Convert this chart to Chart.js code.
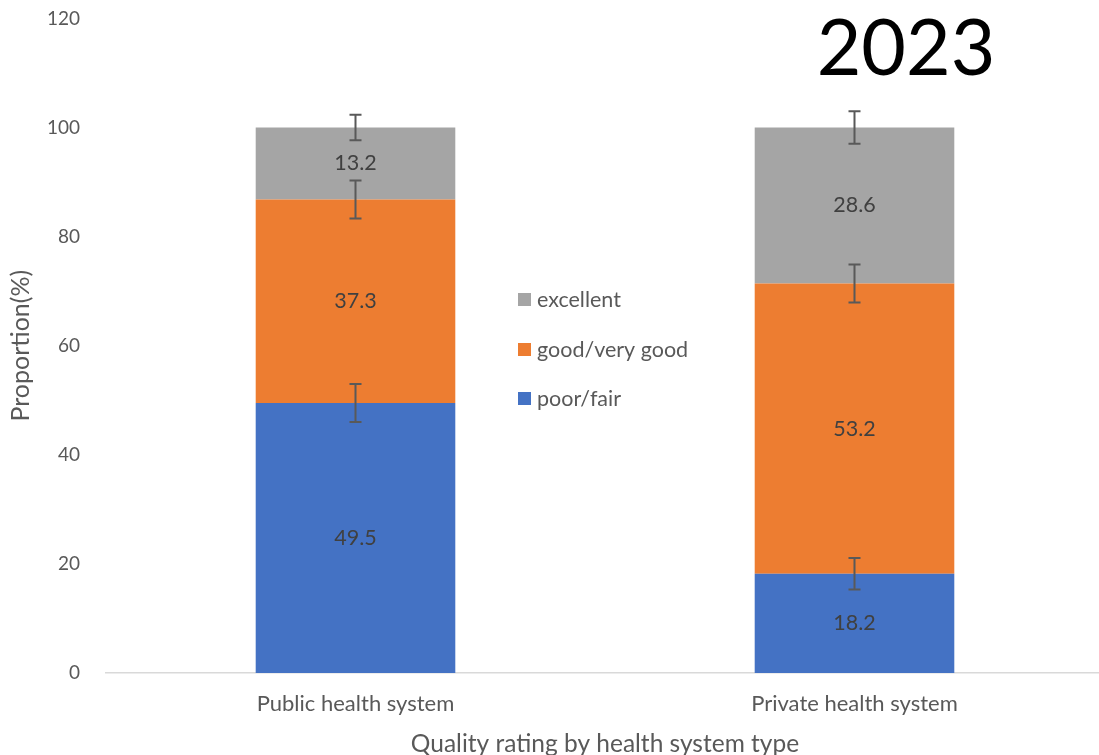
<!DOCTYPE html>
<html>
<head>
<meta charset="utf-8">
<script src="https://cdn.jsdelivr.net/npm/chart.js@4"></script>
<style>
  html, body { margin: 0; padding: 0; background: #fff; overflow: hidden; }
  #wrap { width: 1104px; height: 766px; position: absolute; left: 0; top: -11px; }
</style>
</head>
<body>
<div id="wrap"><canvas id="myChart"></canvas></div>
<script>
// data
const categories = ['Public health system', 'Private health system'];
const poorFair = [49.5, 18.2];
const goodVeryGood = [37.3, 53.2];
const excellent = [13.2, 28.6];
// error bar half widths (same units as values)
const errPoorFair = [3.5, 2.9];
const errGoodVeryGood = [3.5, 3.5];
const errExcellent = [2.35, 3.0];
const yTicks = [0, 20, 40, 60, 80, 100, 120];
const chartTitle = '2023';

const FONT = 'Lato, "Open Sans", sans-serif';
const TEXT_GREY = '#595959';
const SHIFT = 11; // the canvas starts 11px above the page

// valeurs au centre de chaque segment
const valueLabels = {
    id: 'valueLabels',
    afterDatasetsDraw(chart) {
        const ctx = chart.ctx;
        ctx.save();
        ctx.font = '21.5px ' + FONT;
        ctx.fillStyle = '#404040';
        ctx.textAlign = 'center';
        ctx.textBaseline = 'middle';
        chart.data.datasets.forEach((ds, i) => {
            chart.getDatasetMeta(i).data.forEach((bar, j) => {
                ctx.fillText(ds.data[j].toFixed(1), bar.x, (bar.y + bar.base) / 2);
            });
        });
        ctx.restore();
    }
};

// barres d'erreur au sommet de chaque segment
const errorBars = {
    id: 'errorBars',
    afterDatasetsDraw(chart) {
        const ctx = chart.ctx;
        const y = chart.scales.y;
        ctx.save();
        ctx.strokeStyle = TEXT_GREY;
        ctx.lineWidth = 2;
        chart.data.datasets.forEach((ds, i) => {
            chart.getDatasetMeta(i).data.forEach((bar, j) => {
                const top = y.getValueForPixel(bar.y);
                const e = ds.errors[j];
                const y1 = y.getPixelForValue(top + e);
                const y2 = y.getPixelForValue(top - e);
                const cap = 6;
                ctx.beginPath();
                ctx.moveTo(bar.x, y1); ctx.lineTo(bar.x, y2);
                ctx.moveTo(bar.x - cap, y1); ctx.lineTo(bar.x + cap, y1);
                ctx.moveTo(bar.x - cap, y2); ctx.lineTo(bar.x + cap, y2);
                ctx.stroke();
            });
        });
        ctx.restore();
    }
};

// légende dans la zone du graphique + titre "2023"
const insideLegend = {
    id: 'insideLegend',
    afterDraw(chart) {
        const ctx = chart.ctx;
        ctx.save();
        const items = chart.data.datasets.slice().reverse();
        const lx = 518;
        const rows = [299, 349, 398];
        ctx.font = '21.5px ' + FONT;
        ctx.textBaseline = 'middle';
        ctx.textAlign = 'left';
        items.forEach((ds, k) => {
            ctx.fillStyle = ds.backgroundColor;
            ctx.fillRect(lx, rows[k] + SHIFT - 6, 13, 13);
            ctx.fillStyle = TEXT_GREY;
            ctx.fillText(ds.label, lx + 19, rows[k] + SHIFT + 1);
        });

        ctx.font = '77px ' + FONT;
        ctx.fillStyle = '#000';
        ctx.textAlign = 'center';
        ctx.textBaseline = 'alphabetic';
        ctx.fillText(chartTitle, 906, 75 + SHIFT);
        ctx.restore();
    }
};

const ctx = document.getElementById('myChart').getContext('2d');
const myChart = new Chart(ctx, {
    type: 'bar',
    data: {
        labels: categories,
        datasets: [
            {
                label: 'poor/fair',
                data: poorFair,
                errors: errPoorFair,
                backgroundColor: '#4472C4'
            },
            {
                label: 'good/very good',
                data: goodVeryGood,
                errors: errGoodVeryGood,
                backgroundColor: '#ED7D31'
            },
            {
                label: 'excellent',
                data: excellent,
                errors: errExcellent,
                backgroundColor: '#A5A5A5'
            }
        ]
    },
    options: {
        responsive: true,
        maintainAspectRatio: false,
        animation: false,
        barPercentage: 0.4,
        categoryPercentage: 1.0,
        layout: { padding: { top: 0, right: 0, left: 0, bottom: 0 } },
        plugins: {
            legend: { display: false },
            tooltip: { enabled: false }
        },
        scales: {
            x: {
                stacked: true,
                grid: { display: false },
                border: { display: true, color: '#D9D9D9', width: 1.5 },
                ticks: { color: TEXT_GREY, font: { family: FONT, size: 22 }, padding: 10 },
                title: {
                    display: true,
                    text: 'Quality rating by health system type',
                    color: TEXT_GREY,
                    font: { family: FONT, size: 24.5 },
                    padding: { top: 4, bottom: -4 }
                },
                afterFit(scale) { scale.height = 82; }
            },
            y: {
                stacked: true,
                min: 0,
                max: 120,
                afterBuildTicks(scale) {
                    scale.ticks = yTicks.map(v => ({ value: v }));
                },
                grid: { display: false },
                border: { display: false },
                ticks: { color: TEXT_GREY, font: { family: FONT, size: 19 }, padding: 18 },
                title: {
                    display: true,
                    text: 'Proportion(%)',
                    color: TEXT_GREY,
                    font: { family: FONT, size: 25 },
                    padding: { top: 6, bottom: 0 }
                },
                afterFit(scale) { scale.width = 106; }
            }
        }
    },
    plugins: [valueLabels, errorBars, insideLegend]
});
</script>
</body>
</html>
